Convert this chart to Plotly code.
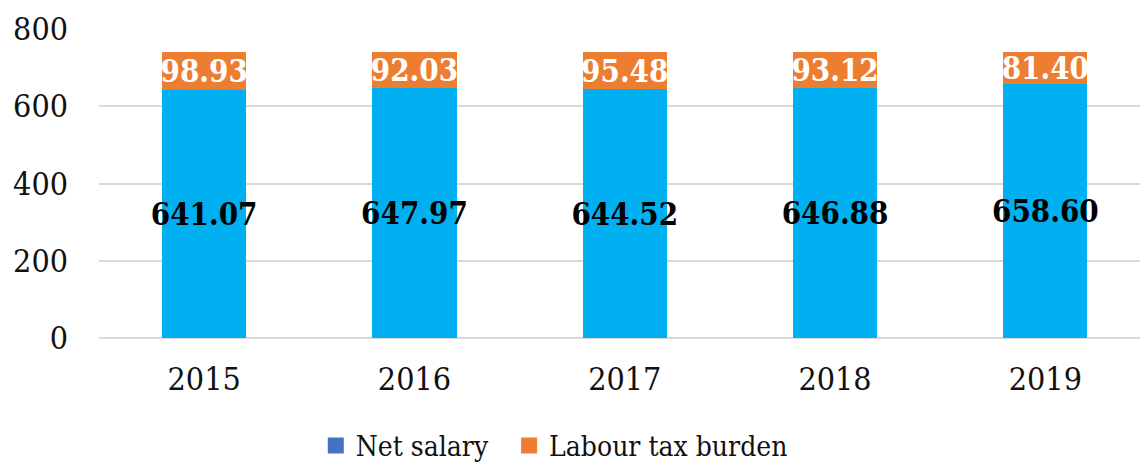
import plotly.graph_objects as go

years = ["2015", "2016", "2017", "2018", "2019"]
net_salary = [641.07, 647.97, 644.52, 646.88, 658.60]
labour_tax = [98.93, 92.03, 95.48, 93.12, 81.40]
y_ticks = [0, 200, 400, 600, 800]
series_names = ["Net salary", "Labour tax burden"]

BLUE = "#00B0F0"
ORANGE = "#ED7D31"
LEGEND_BLUE = "#4472C4"
FONT = "DejaVu Serif Condensed, Liberation Serif, serif"

fig = go.Figure()
fig.add_trace(go.Bar(
    x=years, y=net_salary, name=series_names[0], marker_color=BLUE,
    marker_line_width=0, width=0.4,
    text=[f"{v:.2f}" for v in net_salary], textposition="inside",
    insidetextanchor="middle", constraintext="none", textangle=0,
    textfont=dict(family=FONT, size=31, color="black", weight="bold"),
    showlegend=False, hoverinfo="skip",
))
fig.add_trace(go.Bar(
    x=years, y=labour_tax, name=series_names[1], marker_color=ORANGE,
    marker_line_width=0, width=0.4,
    text=[f"{v:.2f}" for v in labour_tax], textposition="inside",
    insidetextanchor="middle", constraintext="none", textangle=0,
    textfont=dict(family=FONT, size=31, color="white", weight="bold"),
    showlegend=False, hoverinfo="skip",
))
# legend-only entries (legend swatch colours differ from the bars in the original)
legend_labels = [series_names[0] + "\u00a0\u00a0", series_names[1]]
for nm, col in zip(legend_labels, [LEGEND_BLUE, ORANGE]):
    fig.add_trace(go.Scatter(
        x=[None], y=[None], mode="markers", name=nm,
        marker=dict(symbol="square", size=16, color=col),
        showlegend=True,
    ))

fig.update_layout(
    width=1140, height=463,
    barmode="stack",
    margin=dict(l=99, r=0, t=29, b=125),
    paper_bgcolor="white", plot_bgcolor="white",
    font=dict(family=FONT, color="#111111"),
    legend=dict(
        orientation="h", traceorder="normal",
        x=0.277, xanchor="left", xref="container",
        y=0.037, yanchor="middle", yref="container",
        font=dict(family=FONT, size=28, color="#111111"),
    ),
)
fig.update_xaxes(
    type="category", range=[-0.5, 4.45],
    showgrid=False, showline=False, ticks="",
    tickfont=dict(family=FONT, size=32, color="#111111"),
    ticklabelstandoff=19,
)
fig.update_yaxes(
    range=[0, 800], tickvals=y_ticks,
    showgrid=True, gridcolor="#D9D9D9", gridwidth=2,
    zeroline=True, zerolinecolor="#D9D9D9", zerolinewidth=2,
    showline=False, ticks="",
    tickfont=dict(family=FONT, size=32, color="#111111"),
    ticklabelstandoff=30,
)

fig.write_html("out.html")
